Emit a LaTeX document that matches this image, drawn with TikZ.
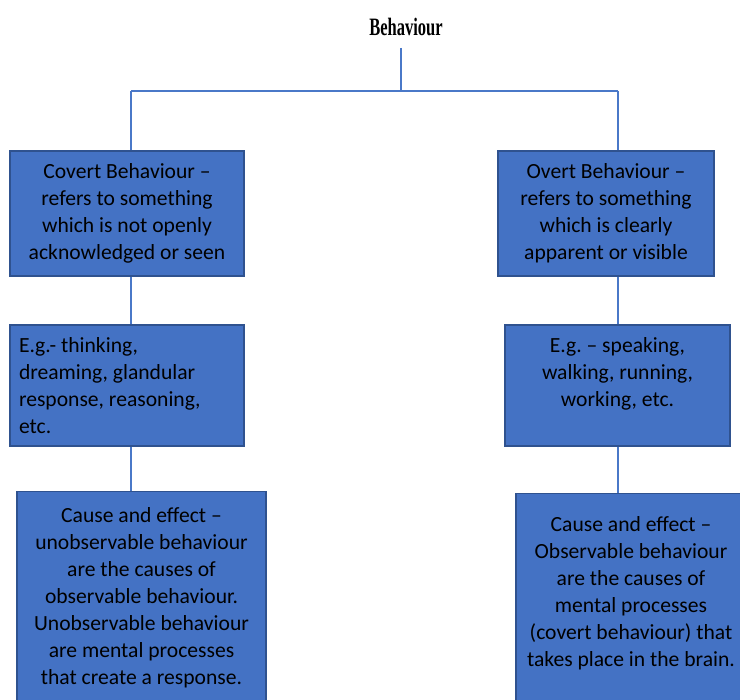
\documentclass[tikz,border=0pt]{standalone}
\usepackage{fontspec}
\setmainfont{Carlito}
\newfontfamily\titlefont{Liberation Serif}
\usetikzlibrary{positioning}
\definecolor{boxblue}{HTML}{4472C4}
\definecolor{boxedge}{HTML}{2F528F}
\definecolor{linkblue}{HTML}{4A78C8}
\frenchspacing
\tikzset{%
  % Specifications for style of nodes:
  base/.style = {draw=boxedge, fill=boxblue, line width=0.6pt, align=center,
                 font=\fontsize{10.8}{13.5}\selectfont},
  kind/.style = {base, minimum width=117pt, minimum height=62.5pt},
  example/.style = {base, minimum height=60.5pt},
  cause/.style = {base, inner ysep=8pt},
  link/.style = {draw=linkblue, line width=0.6pt},
}
\begin{document}
\begin{tikzpicture}[x=0.5pt, y=-0.5pt]
  \useasboundingbox (0,0) rectangle (740,700);
  \clip (0,0) rectangle (740,700);
  % Title and branch points
  \node (title) at (406,27) {\fontsize{12.5}{14}\selectfont\titlefont\scalebox{0.66}[1]{\textbf{Behaviour}}};
  \coordinate (hubtop) at (401,48);
  \coordinate (hub) at (401,91);
  \coordinate (lspine) at (131,91);
  \coordinate (rspine) at (618,91);

  % Left branch
  \node (covert) [kind] at (127,213.5) {Covert Behaviour --\\ refers to something\\ which is not openly\\ acknowledged or seen};
  \node (covertex) [example, align=flush left, text width=108pt, inner xsep=4.5pt] at (127,385.5)
    {E.g.- thinking,\\ dreaming, glandular\\ response, reasoning,\\ etc.};
  \node (covertcause) [cause, minimum width=124.5pt, minimum height=105pt] at (141.5,598)
    {Cause and effect --\\ unobservable behaviour\\ are the causes of\\ observable behaviour.\\ Unobservable behaviour\\ are mental processes\\ that create a response.};

  % Right branch
  \node (overt) [kind, minimum width=108pt] at (606,213.5) {Overt Behaviour --\\ refers to something\\ which is clearly\\ apparent or visible};
  \node (overtex) [example, minimum width=112.5pt] at (617.5,385.5)
    {E.g. -- speaking,\\ walking, running,\\ working, etc.\\ ~};
  \node (overtcause) [cause, minimum width=115pt, anchor=north, inner ysep=11.5pt] at (631,493)
    {Cause and effect --\\ Observable behaviour\\ are the causes of\\ mental processes\\ (covert behaviour) that\\ takes place in the brain.\\ ~\\ ~};

  % Connectors
  \draw [link] (hubtop) -- (hub);
  \draw [link] (lspine) -- (rspine);
  \draw [link] (lspine) -- (covert.north -| lspine);
  \draw [link] (rspine) -- (overt.north -| rspine);
  \draw [link] (covert.south -| lspine) -- (covertex.north -| lspine);
  \draw [link] (covertex.south -| lspine) -- (covertcause.north -| lspine);
  \draw [link] (overt.south -| rspine) -- (overtex.north -| rspine);
  \draw [link] (overtex.south -| rspine) -- (overtcause.north -| rspine);
\end{tikzpicture}
\end{document}
